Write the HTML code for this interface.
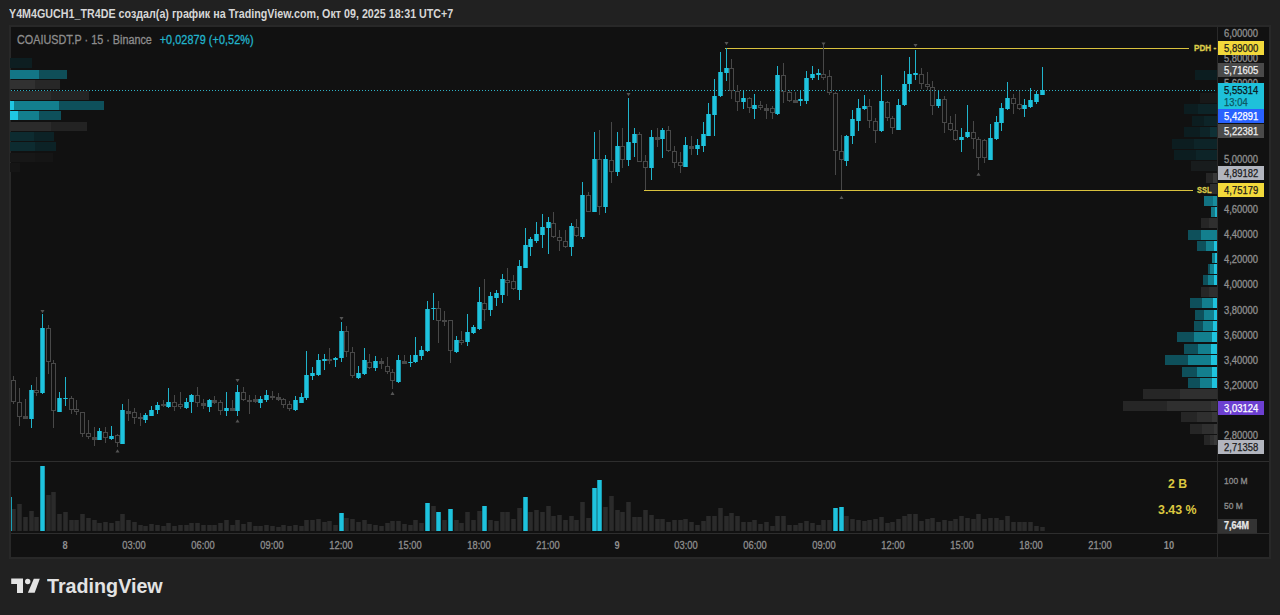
<!DOCTYPE html>
<html><head><meta charset="utf-8">
<style>
html,body{margin:0;padding:0;}
body{width:1280px;height:615px;overflow:hidden;background:#212121;position:relative;font-family:"Liberation Sans",sans-serif;}
.abs{position:absolute;white-space:nowrap;}
#title{left:9px;top:7px;font-size:12px;font-weight:bold;color:#d6d6d6;transform-origin:0 0;transform:scaleX(0.893);letter-spacing:0;}
#panel{left:9px;top:25px;width:1258px;height:530px;border:2px solid #282828;background:#111111;}
#legend{left:17px;top:33px;font-size:12px;color:#8d8d8d;transform-origin:0 0;transform:scaleX(0.9);-webkit-text-stroke:0.3px currentColor;}
#legend .chg{color:#22b4cc;margin-left:2px;letter-spacing:0.1px;}
svg{position:absolute;left:0;top:0;}
.pl{position:absolute;left:1224px;font-size:10px;color:#8e8e8e;line-height:14px;height:14px;transform-origin:0 50%;transform:scaleX(0.94);-webkit-text-stroke:0.3px currentColor;}
.box{position:absolute;left:1218px;width:46px;height:14px;}
.bt{position:absolute;left:6px;top:0px;font-size:10.5px;font-weight:normal;line-height:14px;transform-origin:0 50%;transform:scaleX(0.9);-webkit-text-stroke:0.25px currentColor;}
#logo{left:11px;top:578px;}
#logotext{left:47px;top:575px;font-size:20px;font-weight:bold;color:#e3e3e3;transform-origin:0 0;transform:scaleX(0.985);}
.tl{position:absolute;top:538.5px;width:60px;text-align:center;font-size:10px;color:#8e8e8e;line-height:14px;transform:scaleX(0.93);-webkit-text-stroke:0.3px currentColor;}
.yel{color:#dcc840;font-weight:bold;font-size:13.5px;}
</style></head><body>
<div id="title" class="abs">Y4M4GUCH1_TR4DE создал(а) график на TradingView.com, Окт 09, 2025 18:31 UTC+7</div>
<div id="panel" class="abs"></div>

<svg width="1280" height="615" viewBox="0 0 1280 615" shape-rendering="crispEdges">
<!-- separators -->
<rect x="1217" y="27" width="1" height="530" fill="#2a2a2a"/>
<rect x="11" y="461" width="1258" height="1" fill="#2e2e2e"/>
<rect x="11" y="533" width="1258" height="1" fill="#2e2e2e"/>
<!-- left volume profile -->
<g>
<rect x="10" y="58" width="22" height="10" fill="#0d1e21"/>
<rect x="10" y="70" width="29" height="9" fill="#137686"/>
<rect x="39" y="70" width="28" height="9" fill="#0f4e58"/>
<rect x="10" y="80" width="25" height="9" fill="#313131"/>
<rect x="35" y="80" width="25" height="9" fill="#272727"/>
<rect x="10" y="91" width="41" height="9" fill="#2b2b2b"/>
<rect x="51" y="91" width="38" height="9" fill="#242424"/>
<rect x="10" y="101" width="4" height="9" fill="#1fc6e2"/>
<rect x="14" y="101" width="45" height="9" fill="#137f8e"/>
<rect x="59" y="101" width="45" height="9" fill="#0e505b"/>
<rect x="10" y="111" width="8" height="9" fill="#1fc6e2"/>
<rect x="18" y="111" width="21" height="9" fill="#137f8e"/>
<rect x="39" y="111" width="22" height="9" fill="#0e505b"/>
<rect x="10" y="122" width="41" height="9" fill="#2b2b2b"/>
<rect x="51" y="122" width="36" height="9" fill="#232323"/>
<rect x="10" y="132" width="24" height="9" fill="#0d2b30"/>
<rect x="34" y="132" width="20" height="9" fill="#0c2226"/>
<rect x="10" y="142" width="25" height="9" fill="#0d2b30"/>
<rect x="35" y="142" width="21" height="9" fill="#0c2226"/>
<rect x="10" y="153" width="25" height="9" fill="#171717"/>
<rect x="35" y="153" width="18" height="9" fill="#151515"/>
<rect x="10" y="163" width="10" height="9" fill="#151515"/>
</g>
<!-- right volume profile -->
<rect x="1195" y="70" width="22" height="10" fill="#0c1d20"/>
<rect x="1200" y="93" width="17" height="10" fill="#181818"/>
<rect x="1184" y="104" width="14" height="10" fill="#0c1d20"/>
<rect x="1198" y="104" width="19" height="10" fill="#0d2428"/>
<rect x="1192" y="116" width="12" height="10" fill="#0c1d20"/>
<rect x="1204" y="116" width="13" height="10" fill="#0d2428"/>
<rect x="1184" y="127" width="16" height="10" fill="#0c1d20"/>
<rect x="1200" y="127" width="10" height="10" fill="#0d2428"/>
<rect x="1210" y="127" width="7" height="10" fill="#0f3035"/>
<rect x="1172" y="139" width="22" height="10" fill="#0c1d20"/>
<rect x="1194" y="139" width="23" height="10" fill="#0d2428"/>
<rect x="1174" y="150" width="22" height="10" fill="#0c1d20"/>
<rect x="1196" y="150" width="21" height="10" fill="#0d2428"/>
<rect x="1191" y="161" width="26" height="10" fill="#181c1d"/>
<rect x="1206" y="173" width="7" height="10" fill="#262626"/>
<rect x="1213" y="173" width="4" height="10" fill="#383838"/>
<rect x="1210" y="184" width="7" height="10" fill="#2f2f2f"/>
<rect x="1204" y="196" width="9" height="10" fill="#127282"/>
<rect x="1213" y="196" width="4" height="10" fill="#188d9d"/>
<rect x="1211" y="207" width="4" height="10" fill="#147a88"/>
<rect x="1215" y="207" width="2" height="10" fill="#1fb0c8"/>
<rect x="1201" y="218" width="8" height="10" fill="#262626"/>
<rect x="1209" y="218" width="8" height="10" fill="#2f2f2f"/>
<rect x="1188" y="230" width="13" height="10" fill="#0e505b"/>
<rect x="1201" y="230" width="16" height="10" fill="#137f8e"/>
<rect x="1197" y="241" width="9" height="10" fill="#0e505b"/>
<rect x="1206" y="241" width="8" height="10" fill="#137f8e"/>
<rect x="1214" y="241" width="3" height="10" fill="#1ec3de"/>
<rect x="1212" y="253" width="3" height="10" fill="#137f8e"/>
<rect x="1215" y="253" width="2" height="10" fill="#1ec3de"/>
<rect x="1208" y="264" width="2" height="10" fill="#0e505b"/>
<rect x="1210" y="264" width="4" height="10" fill="#137f8e"/>
<rect x="1214" y="264" width="3" height="10" fill="#1ec3de"/>
<rect x="1203" y="275" width="5" height="10" fill="#0e505b"/>
<rect x="1208" y="275" width="6" height="10" fill="#137f8e"/>
<rect x="1214" y="275" width="3" height="10" fill="#1ec3de"/>
<rect x="1201" y="287" width="8" height="10" fill="#262626"/>
<rect x="1209" y="287" width="8" height="10" fill="#2f2f2f"/>
<rect x="1190" y="298" width="12" height="10" fill="#0e505b"/>
<rect x="1202" y="298" width="11" height="10" fill="#137f8e"/>
<rect x="1213" y="298" width="4" height="10" fill="#1ec3de"/>
<rect x="1195" y="310" width="9" height="10" fill="#0e505b"/>
<rect x="1204" y="310" width="10" height="10" fill="#137f8e"/>
<rect x="1214" y="310" width="3" height="10" fill="#1ec3de"/>
<rect x="1194" y="321" width="9" height="10" fill="#0e505b"/>
<rect x="1203" y="321" width="10" height="10" fill="#137f8e"/>
<rect x="1213" y="321" width="4" height="10" fill="#1ec3de"/>
<rect x="1177" y="332" width="17" height="10" fill="#0e505b"/>
<rect x="1194" y="332" width="18" height="10" fill="#137f8e"/>
<rect x="1212" y="332" width="5" height="10" fill="#1ec3de"/>
<rect x="1184" y="344" width="14" height="10" fill="#0e505b"/>
<rect x="1198" y="344" width="13" height="10" fill="#137f8e"/>
<rect x="1211" y="344" width="6" height="10" fill="#1ec3de"/>
<rect x="1165" y="355" width="23" height="10" fill="#0e505b"/>
<rect x="1188" y="355" width="23" height="10" fill="#137f8e"/>
<rect x="1211" y="355" width="6" height="10" fill="#1ec3de"/>
<rect x="1182" y="367" width="15" height="10" fill="#0e505b"/>
<rect x="1197" y="367" width="15" height="10" fill="#137f8e"/>
<rect x="1212" y="367" width="5" height="10" fill="#1ec3de"/>
<rect x="1188" y="378" width="12" height="10" fill="#0e505b"/>
<rect x="1200" y="378" width="12" height="10" fill="#137f8e"/>
<rect x="1212" y="378" width="5" height="10" fill="#1ec3de"/>
<rect x="1143" y="389" width="37" height="10" fill="#262626"/>
<rect x="1180" y="389" width="37" height="10" fill="#2f2f2f"/>
<rect x="1123" y="401" width="44" height="10" fill="#262626"/>
<rect x="1167" y="401" width="44" height="10" fill="#2f2f2f"/>
<rect x="1211" y="401" width="6" height="10" fill="#383838"/>
<rect x="1181" y="412" width="16" height="10" fill="#262626"/>
<rect x="1197" y="412" width="15" height="10" fill="#2f2f2f"/>
<rect x="1212" y="412" width="5" height="10" fill="#383838"/>
<rect x="1190" y="424" width="12" height="10" fill="#262626"/>
<rect x="1202" y="424" width="12" height="10" fill="#2f2f2f"/>
<rect x="1214" y="424" width="3" height="10" fill="#383838"/>
<rect x="1204" y="435" width="6" height="10" fill="#262626"/>
<rect x="1210" y="435" width="4" height="10" fill="#2f2f2f"/>
<rect x="1214" y="435" width="3" height="10" fill="#383838"/>
<!-- dotted price line -->
<line x1="11" y1="90.5" x2="1217" y2="90.5" stroke="#2eb2c6" stroke-width="1" stroke-dasharray="1 2"/>
<!-- PDH / SSL -->
<rect x="725" y="48" width="464" height="1" fill="#d9c23e"/>
<rect x="644" y="190" width="549" height="1" fill="#d9c23e"/>
<rect x="13" y="376" width="1" height="4" fill="#484848"/>
<rect x="13" y="402" width="1" height="2" fill="#484848"/>
<rect x="11.5" y="380.5" width="4" height="21" fill="none" stroke="#484848" stroke-width="1"/>
<rect x="19" y="388" width="1" height="14" fill="#484848"/>
<rect x="19" y="417" width="1" height="9" fill="#484848"/>
<rect x="17.5" y="402.5" width="4" height="14" fill="none" stroke="#484848" stroke-width="1"/>
<rect x="25" y="399" width="1" height="17" fill="#484848"/>
<rect x="25" y="418" width="1" height="1" fill="#484848"/>
<rect x="23" y="416" width="5" height="3" fill="#484848"/>
<rect x="31" y="385" width="1" height="5" fill="#20b4cc"/>
<rect x="31" y="419" width="1" height="9" fill="#20b4cc"/>
<rect x="29.25" y="390" width="4.5" height="29" fill="#1ec3de" shape-rendering="auto"/>
<rect x="36" y="377" width="1" height="13" fill="#484848"/>
<rect x="36" y="393" width="1" height="3" fill="#484848"/>
<rect x="34.5" y="390.5" width="4" height="2" fill="none" stroke="#484848" stroke-width="1"/>
<rect x="42" y="314" width="1" height="14" fill="#20b4cc"/>
<rect x="42" y="393" width="1" height="1" fill="#20b4cc"/>
<rect x="40.25" y="328" width="4.5" height="65" fill="#1ec3de" shape-rendering="auto"/>
<rect x="48" y="325" width="1" height="3" fill="#484848"/>
<rect x="48" y="362" width="1" height="12" fill="#484848"/>
<rect x="46.5" y="328.5" width="4" height="33" fill="none" stroke="#484848" stroke-width="1"/>
<rect x="53" y="360" width="1" height="3" fill="#484848"/>
<rect x="53" y="411" width="1" height="17" fill="#484848"/>
<rect x="51.5" y="363.5" width="4" height="47" fill="none" stroke="#484848" stroke-width="1"/>
<rect x="59" y="392" width="1" height="6" fill="#20b4cc"/>
<rect x="57.25" y="398" width="4.5" height="14" fill="#1ec3de" shape-rendering="auto"/>
<rect x="65" y="377" width="1" height="21" fill="#20b4cc"/>
<rect x="65" y="399" width="1" height="7" fill="#20b4cc"/>
<rect x="63.25" y="398" width="4.5" height="1" fill="#1ec3de" shape-rendering="auto"/>
<rect x="71" y="396" width="1" height="2" fill="#484848"/>
<rect x="71" y="410" width="1" height="4" fill="#484848"/>
<rect x="69.5" y="398.5" width="4" height="11" fill="none" stroke="#484848" stroke-width="1"/>
<rect x="76" y="400" width="1" height="9" fill="#484848"/>
<rect x="76" y="412" width="1" height="3" fill="#484848"/>
<rect x="74.5" y="409.5" width="4" height="2" fill="none" stroke="#484848" stroke-width="1"/>
<rect x="82" y="434" width="1" height="3" fill="#484848"/>
<rect x="80.5" y="412.5" width="4" height="21" fill="none" stroke="#484848" stroke-width="1"/>
<rect x="88" y="420" width="1" height="13" fill="#484848"/>
<rect x="88" y="437" width="1" height="2" fill="#484848"/>
<rect x="86.5" y="433.5" width="4" height="3" fill="none" stroke="#484848" stroke-width="1"/>
<rect x="94" y="427" width="1" height="10" fill="#484848"/>
<rect x="94" y="439" width="1" height="7" fill="#484848"/>
<rect x="92" y="437" width="5" height="3" fill="#484848"/>
<rect x="99" y="428" width="1" height="3" fill="#20b4cc"/>
<rect x="97.25" y="431" width="4.5" height="9" fill="#1ec3de" shape-rendering="auto"/>
<rect x="105" y="427" width="1" height="5" fill="#484848"/>
<rect x="105" y="438" width="1" height="5" fill="#484848"/>
<rect x="103.5" y="432.5" width="4" height="5" fill="none" stroke="#484848" stroke-width="1"/>
<rect x="111" y="426" width="1" height="10" fill="#20b4cc"/>
<rect x="111" y="439" width="1" height="1" fill="#20b4cc"/>
<rect x="109.25" y="436" width="4.5" height="3" fill="#1ec3de" shape-rendering="auto"/>
<rect x="117" y="434" width="1" height="1" fill="#484848"/>
<rect x="117" y="443" width="1" height="4" fill="#484848"/>
<rect x="115.5" y="435.5" width="4" height="7" fill="none" stroke="#484848" stroke-width="1"/>
<rect x="122" y="404" width="1" height="6" fill="#20b4cc"/>
<rect x="120.25" y="410" width="4.5" height="34" fill="#1ec3de" shape-rendering="auto"/>
<rect x="128" y="399" width="1" height="12" fill="#484848"/>
<rect x="128" y="413" width="1" height="8" fill="#484848"/>
<rect x="126" y="411" width="5" height="3" fill="#484848"/>
<rect x="134" y="408" width="1" height="4" fill="#484848"/>
<rect x="134" y="418" width="1" height="6" fill="#484848"/>
<rect x="132.5" y="412.5" width="4" height="5" fill="none" stroke="#484848" stroke-width="1"/>
<rect x="140" y="413" width="1" height="4" fill="#484848"/>
<rect x="140" y="418" width="1" height="8" fill="#484848"/>
<rect x="138" y="417" width="5" height="2" fill="#484848"/>
<rect x="145" y="413" width="1" height="2" fill="#20b4cc"/>
<rect x="145" y="420" width="1" height="3" fill="#20b4cc"/>
<rect x="143.25" y="415" width="4.5" height="5" fill="#1ec3de" shape-rendering="auto"/>
<rect x="151" y="406" width="1" height="4" fill="#20b4cc"/>
<rect x="149.25" y="410" width="4.5" height="6" fill="#1ec3de" shape-rendering="auto"/>
<rect x="157" y="402" width="1" height="3" fill="#20b4cc"/>
<rect x="157" y="410" width="1" height="4" fill="#20b4cc"/>
<rect x="155.25" y="405" width="4.5" height="5" fill="#1ec3de" shape-rendering="auto"/>
<rect x="163" y="400" width="1" height="4" fill="#484848"/>
<rect x="163" y="405" width="1" height="2" fill="#484848"/>
<rect x="161" y="404" width="5" height="2" fill="#484848"/>
<rect x="168" y="388" width="1" height="14" fill="#20b4cc"/>
<rect x="168" y="407" width="1" height="1" fill="#20b4cc"/>
<rect x="166.25" y="402" width="4.5" height="5" fill="#1ec3de" shape-rendering="auto"/>
<rect x="174" y="395" width="1" height="7" fill="#484848"/>
<rect x="174" y="407" width="1" height="4" fill="#484848"/>
<rect x="172.5" y="402.5" width="4" height="4" fill="none" stroke="#484848" stroke-width="1"/>
<rect x="180" y="392" width="1" height="12" fill="#484848"/>
<rect x="180" y="407" width="1" height="2" fill="#484848"/>
<rect x="178.5" y="404.5" width="4" height="2" fill="none" stroke="#484848" stroke-width="1"/>
<rect x="186" y="398" width="1" height="4" fill="#20b4cc"/>
<rect x="186" y="408" width="1" height="1" fill="#20b4cc"/>
<rect x="184.25" y="402" width="4.5" height="6" fill="#1ec3de" shape-rendering="auto"/>
<rect x="191" y="394" width="1" height="1" fill="#20b4cc"/>
<rect x="191" y="402" width="1" height="11" fill="#20b4cc"/>
<rect x="189.25" y="395" width="4.5" height="7" fill="#1ec3de" shape-rendering="auto"/>
<rect x="197" y="387" width="1" height="8" fill="#484848"/>
<rect x="197" y="403" width="1" height="4" fill="#484848"/>
<rect x="195.5" y="395.5" width="4" height="7" fill="none" stroke="#484848" stroke-width="1"/>
<rect x="203" y="399" width="1" height="4" fill="#484848"/>
<rect x="203" y="405" width="1" height="4" fill="#484848"/>
<rect x="201" y="403" width="5" height="3" fill="#484848"/>
<rect x="209" y="399" width="1" height="1" fill="#20b4cc"/>
<rect x="209" y="407" width="1" height="5" fill="#20b4cc"/>
<rect x="207.25" y="400" width="4.5" height="7" fill="#1ec3de" shape-rendering="auto"/>
<rect x="214" y="396" width="1" height="4" fill="#484848"/>
<rect x="214" y="402" width="1" height="2" fill="#484848"/>
<rect x="212" y="400" width="5" height="3" fill="#484848"/>
<rect x="220" y="400" width="1" height="2" fill="#484848"/>
<rect x="220" y="411" width="1" height="4" fill="#484848"/>
<rect x="218.5" y="402.5" width="4" height="8" fill="none" stroke="#484848" stroke-width="1"/>
<rect x="226" y="392" width="1" height="16" fill="#20b4cc"/>
<rect x="226" y="411" width="1" height="5" fill="#20b4cc"/>
<rect x="224.25" y="408" width="4.5" height="3" fill="#1ec3de" shape-rendering="auto"/>
<rect x="232" y="400" width="1" height="8" fill="#484848"/>
<rect x="232" y="410" width="1" height="1" fill="#484848"/>
<rect x="230" y="408" width="5" height="3" fill="#484848"/>
<rect x="237" y="385" width="1" height="7" fill="#20b4cc"/>
<rect x="237" y="411" width="1" height="5" fill="#20b4cc"/>
<rect x="235.25" y="392" width="4.5" height="19" fill="#1ec3de" shape-rendering="auto"/>
<rect x="243" y="387" width="1" height="5" fill="#484848"/>
<rect x="243" y="400" width="1" height="1" fill="#484848"/>
<rect x="241.5" y="392.5" width="4" height="7" fill="none" stroke="#484848" stroke-width="1"/>
<rect x="249" y="395" width="1" height="5" fill="#484848"/>
<rect x="249" y="401" width="1" height="13" fill="#484848"/>
<rect x="247" y="400" width="5" height="2" fill="#484848"/>
<rect x="255" y="395" width="1" height="4" fill="#484848"/>
<rect x="255" y="401" width="1" height="2" fill="#484848"/>
<rect x="253" y="399" width="5" height="3" fill="#484848"/>
<rect x="260" y="396" width="1" height="3" fill="#20b4cc"/>
<rect x="260" y="403" width="1" height="5" fill="#20b4cc"/>
<rect x="258.25" y="399" width="4.5" height="4" fill="#1ec3de" shape-rendering="auto"/>
<rect x="266" y="390" width="1" height="5" fill="#20b4cc"/>
<rect x="266" y="400" width="1" height="2" fill="#20b4cc"/>
<rect x="264.25" y="395" width="4.5" height="5" fill="#1ec3de" shape-rendering="auto"/>
<rect x="272" y="391" width="1" height="5" fill="#484848"/>
<rect x="272" y="397" width="1" height="3" fill="#484848"/>
<rect x="270" y="396" width="5" height="2" fill="#484848"/>
<rect x="278" y="393" width="1" height="4" fill="#484848"/>
<rect x="278" y="399" width="1" height="2" fill="#484848"/>
<rect x="276" y="397" width="5" height="3" fill="#484848"/>
<rect x="283" y="398" width="1" height="1" fill="#484848"/>
<rect x="283" y="405" width="1" height="3" fill="#484848"/>
<rect x="281.5" y="399.5" width="4" height="5" fill="none" stroke="#484848" stroke-width="1"/>
<rect x="289" y="401" width="1" height="3" fill="#484848"/>
<rect x="289" y="409" width="1" height="2" fill="#484848"/>
<rect x="287.5" y="404.5" width="4" height="4" fill="none" stroke="#484848" stroke-width="1"/>
<rect x="295" y="396" width="1" height="4" fill="#20b4cc"/>
<rect x="295" y="410" width="1" height="1" fill="#20b4cc"/>
<rect x="293.25" y="400" width="4.5" height="10" fill="#1ec3de" shape-rendering="auto"/>
<rect x="301" y="393" width="1" height="4" fill="#20b4cc"/>
<rect x="299.25" y="397" width="4.5" height="6" fill="#1ec3de" shape-rendering="auto"/>
<rect x="306" y="351" width="1" height="24" fill="#20b4cc"/>
<rect x="306" y="398" width="1" height="2" fill="#20b4cc"/>
<rect x="304.25" y="375" width="4.5" height="23" fill="#1ec3de" shape-rendering="auto"/>
<rect x="312" y="367" width="1" height="6" fill="#20b4cc"/>
<rect x="312" y="376" width="1" height="4" fill="#20b4cc"/>
<rect x="310.25" y="373" width="4.5" height="3" fill="#1ec3de" shape-rendering="auto"/>
<rect x="318" y="354" width="1" height="6" fill="#20b4cc"/>
<rect x="318" y="375" width="1" height="1" fill="#20b4cc"/>
<rect x="316.25" y="360" width="4.5" height="15" fill="#1ec3de" shape-rendering="auto"/>
<rect x="324" y="354" width="1" height="5" fill="#20b4cc"/>
<rect x="324" y="361" width="1" height="9" fill="#20b4cc"/>
<rect x="322.25" y="359" width="4.5" height="2" fill="#1ec3de" shape-rendering="auto"/>
<rect x="329" y="348" width="1" height="11" fill="#484848"/>
<rect x="329" y="360" width="1" height="4" fill="#484848"/>
<rect x="327" y="359" width="5" height="2" fill="#484848"/>
<rect x="335" y="357" width="1" height="1" fill="#20b4cc"/>
<rect x="335" y="360" width="1" height="7" fill="#20b4cc"/>
<rect x="333.25" y="358" width="4.5" height="2" fill="#1ec3de" shape-rendering="auto"/>
<rect x="341" y="322" width="1" height="9" fill="#20b4cc"/>
<rect x="341" y="358" width="1" height="4" fill="#20b4cc"/>
<rect x="339.25" y="331" width="4.5" height="27" fill="#1ec3de" shape-rendering="auto"/>
<rect x="346" y="326" width="1" height="5" fill="#484848"/>
<rect x="346" y="352" width="1" height="5" fill="#484848"/>
<rect x="344.5" y="331.5" width="4" height="20" fill="none" stroke="#484848" stroke-width="1"/>
<rect x="352" y="347" width="1" height="5" fill="#484848"/>
<rect x="352" y="376" width="1" height="2" fill="#484848"/>
<rect x="350.5" y="352.5" width="4" height="23" fill="none" stroke="#484848" stroke-width="1"/>
<rect x="358" y="366" width="1" height="7" fill="#20b4cc"/>
<rect x="358" y="378" width="1" height="1" fill="#20b4cc"/>
<rect x="356.25" y="373" width="4.5" height="5" fill="#1ec3de" shape-rendering="auto"/>
<rect x="364" y="348" width="1" height="12" fill="#20b4cc"/>
<rect x="364" y="374" width="1" height="1" fill="#20b4cc"/>
<rect x="362.25" y="360" width="4.5" height="14" fill="#1ec3de" shape-rendering="auto"/>
<rect x="369" y="354" width="1" height="8" fill="#484848"/>
<rect x="369" y="368" width="1" height="1" fill="#484848"/>
<rect x="367.5" y="362.5" width="4" height="5" fill="none" stroke="#484848" stroke-width="1"/>
<rect x="375" y="356" width="1" height="5" fill="#20b4cc"/>
<rect x="375" y="368" width="1" height="3" fill="#20b4cc"/>
<rect x="373.25" y="361" width="4.5" height="7" fill="#1ec3de" shape-rendering="auto"/>
<rect x="381" y="358" width="1" height="3" fill="#484848"/>
<rect x="381" y="363" width="1" height="6" fill="#484848"/>
<rect x="379" y="361" width="5" height="3" fill="#484848"/>
<rect x="387" y="357" width="1" height="9" fill="#484848"/>
<rect x="387" y="372" width="1" height="2" fill="#484848"/>
<rect x="385.5" y="366.5" width="4" height="5" fill="none" stroke="#484848" stroke-width="1"/>
<rect x="392" y="369" width="1" height="3" fill="#484848"/>
<rect x="392" y="381" width="1" height="8" fill="#484848"/>
<rect x="390.5" y="372.5" width="4" height="8" fill="none" stroke="#484848" stroke-width="1"/>
<rect x="398" y="355" width="1" height="5" fill="#20b4cc"/>
<rect x="398" y="382" width="1" height="1" fill="#20b4cc"/>
<rect x="396.25" y="360" width="4.5" height="22" fill="#1ec3de" shape-rendering="auto"/>
<rect x="404" y="355" width="1" height="6" fill="#484848"/>
<rect x="404" y="363" width="1" height="1" fill="#484848"/>
<rect x="402" y="361" width="5" height="3" fill="#484848"/>
<rect x="410" y="355" width="1" height="7" fill="#20b4cc"/>
<rect x="410" y="363" width="1" height="4" fill="#20b4cc"/>
<rect x="408.25" y="362" width="4.5" height="1" fill="#1ec3de" shape-rendering="auto"/>
<rect x="415" y="337" width="1" height="18" fill="#20b4cc"/>
<rect x="415" y="362" width="1" height="1" fill="#20b4cc"/>
<rect x="413.25" y="355" width="4.5" height="7" fill="#1ec3de" shape-rendering="auto"/>
<rect x="421" y="346" width="1" height="4" fill="#20b4cc"/>
<rect x="421" y="356" width="1" height="4" fill="#20b4cc"/>
<rect x="419.25" y="350" width="4.5" height="6" fill="#1ec3de" shape-rendering="auto"/>
<rect x="427" y="301" width="1" height="8" fill="#20b4cc"/>
<rect x="427" y="351" width="1" height="1" fill="#20b4cc"/>
<rect x="425.25" y="309" width="4.5" height="42" fill="#1ec3de" shape-rendering="auto"/>
<rect x="433" y="293" width="1" height="15" fill="#20b4cc"/>
<rect x="433" y="309" width="1" height="11" fill="#20b4cc"/>
<rect x="431.25" y="308" width="4.5" height="1" fill="#1ec3de" shape-rendering="auto"/>
<rect x="438" y="301" width="1" height="7" fill="#484848"/>
<rect x="438" y="321" width="1" height="22" fill="#484848"/>
<rect x="436.5" y="308.5" width="4" height="12" fill="none" stroke="#484848" stroke-width="1"/>
<rect x="444" y="311" width="1" height="9" fill="#484848"/>
<rect x="444" y="321" width="1" height="5" fill="#484848"/>
<rect x="442" y="320" width="5" height="2" fill="#484848"/>
<rect x="450" y="351" width="1" height="12" fill="#484848"/>
<rect x="448.5" y="320.5" width="4" height="30" fill="none" stroke="#484848" stroke-width="1"/>
<rect x="456" y="336" width="1" height="4" fill="#20b4cc"/>
<rect x="456" y="352" width="1" height="1" fill="#20b4cc"/>
<rect x="454.25" y="340" width="4.5" height="12" fill="#1ec3de" shape-rendering="auto"/>
<rect x="461" y="331" width="1" height="9" fill="#484848"/>
<rect x="461" y="343" width="1" height="2" fill="#484848"/>
<rect x="459.5" y="340.5" width="4" height="2" fill="none" stroke="#484848" stroke-width="1"/>
<rect x="467" y="314" width="1" height="18" fill="#20b4cc"/>
<rect x="467" y="342" width="1" height="4" fill="#20b4cc"/>
<rect x="465.25" y="332" width="4.5" height="10" fill="#1ec3de" shape-rendering="auto"/>
<rect x="473" y="325" width="1" height="2" fill="#20b4cc"/>
<rect x="473" y="333" width="1" height="1" fill="#20b4cc"/>
<rect x="471.25" y="327" width="4.5" height="6" fill="#1ec3de" shape-rendering="auto"/>
<rect x="479" y="287" width="1" height="15" fill="#20b4cc"/>
<rect x="479" y="329" width="1" height="1" fill="#20b4cc"/>
<rect x="477.25" y="302" width="4.5" height="27" fill="#1ec3de" shape-rendering="auto"/>
<rect x="484" y="279" width="1" height="24" fill="#484848"/>
<rect x="484" y="310" width="1" height="11" fill="#484848"/>
<rect x="482.5" y="303.5" width="4" height="6" fill="none" stroke="#484848" stroke-width="1"/>
<rect x="490" y="292" width="1" height="4" fill="#20b4cc"/>
<rect x="490" y="310" width="1" height="6" fill="#20b4cc"/>
<rect x="488.25" y="296" width="4.5" height="14" fill="#1ec3de" shape-rendering="auto"/>
<rect x="496" y="290" width="1" height="3" fill="#20b4cc"/>
<rect x="496" y="298" width="1" height="8" fill="#20b4cc"/>
<rect x="494.25" y="293" width="4.5" height="5" fill="#1ec3de" shape-rendering="auto"/>
<rect x="502" y="274" width="1" height="5" fill="#20b4cc"/>
<rect x="502" y="295" width="1" height="8" fill="#20b4cc"/>
<rect x="500.25" y="279" width="4.5" height="16" fill="#1ec3de" shape-rendering="auto"/>
<rect x="507" y="268" width="1" height="12" fill="#484848"/>
<rect x="507" y="283" width="1" height="13" fill="#484848"/>
<rect x="505.5" y="280.5" width="4" height="2" fill="none" stroke="#484848" stroke-width="1"/>
<rect x="513" y="275" width="1" height="6" fill="#484848"/>
<rect x="513" y="289" width="1" height="1" fill="#484848"/>
<rect x="511.5" y="281.5" width="4" height="7" fill="none" stroke="#484848" stroke-width="1"/>
<rect x="519" y="260" width="1" height="6" fill="#20b4cc"/>
<rect x="519" y="290" width="1" height="10" fill="#20b4cc"/>
<rect x="517.25" y="266" width="4.5" height="24" fill="#1ec3de" shape-rendering="auto"/>
<rect x="525" y="228" width="1" height="17" fill="#20b4cc"/>
<rect x="523.25" y="245" width="4.5" height="23" fill="#1ec3de" shape-rendering="auto"/>
<rect x="530" y="237" width="1" height="2" fill="#20b4cc"/>
<rect x="530" y="247" width="1" height="9" fill="#20b4cc"/>
<rect x="528.25" y="239" width="4.5" height="8" fill="#1ec3de" shape-rendering="auto"/>
<rect x="536" y="222" width="1" height="12" fill="#20b4cc"/>
<rect x="536" y="241" width="1" height="2" fill="#20b4cc"/>
<rect x="534.25" y="234" width="4.5" height="7" fill="#1ec3de" shape-rendering="auto"/>
<rect x="542" y="214" width="1" height="13" fill="#20b4cc"/>
<rect x="542" y="235" width="1" height="13" fill="#20b4cc"/>
<rect x="540.25" y="227" width="4.5" height="8" fill="#1ec3de" shape-rendering="auto"/>
<rect x="548" y="217" width="1" height="5" fill="#20b4cc"/>
<rect x="548" y="228" width="1" height="26" fill="#20b4cc"/>
<rect x="546.25" y="222" width="4.5" height="6" fill="#1ec3de" shape-rendering="auto"/>
<rect x="553" y="212" width="1" height="11" fill="#484848"/>
<rect x="553" y="237" width="1" height="1" fill="#484848"/>
<rect x="551.5" y="223.5" width="4" height="13" fill="none" stroke="#484848" stroke-width="1"/>
<rect x="559" y="230" width="1" height="7" fill="#484848"/>
<rect x="559" y="241" width="1" height="10" fill="#484848"/>
<rect x="557.5" y="237.5" width="4" height="3" fill="none" stroke="#484848" stroke-width="1"/>
<rect x="565" y="230" width="1" height="11" fill="#484848"/>
<rect x="565" y="247" width="1" height="1" fill="#484848"/>
<rect x="563.5" y="241.5" width="4" height="5" fill="none" stroke="#484848" stroke-width="1"/>
<rect x="571" y="223" width="1" height="3" fill="#20b4cc"/>
<rect x="571" y="247" width="1" height="9" fill="#20b4cc"/>
<rect x="569.25" y="226" width="4.5" height="21" fill="#1ec3de" shape-rendering="auto"/>
<rect x="576" y="219" width="1" height="8" fill="#484848"/>
<rect x="576" y="236" width="1" height="1" fill="#484848"/>
<rect x="574.5" y="227.5" width="4" height="8" fill="none" stroke="#484848" stroke-width="1"/>
<rect x="582" y="182" width="1" height="13" fill="#20b4cc"/>
<rect x="582" y="237" width="1" height="2" fill="#20b4cc"/>
<rect x="580.25" y="195" width="4.5" height="42" fill="#1ec3de" shape-rendering="auto"/>
<rect x="588" y="192" width="1" height="3" fill="#484848"/>
<rect x="586.5" y="195.5" width="4" height="16" fill="none" stroke="#484848" stroke-width="1"/>
<rect x="594" y="132" width="1" height="27" fill="#20b4cc"/>
<rect x="592.25" y="159" width="4.5" height="53" fill="#1ec3de" shape-rendering="auto"/>
<rect x="599" y="130" width="1" height="29" fill="#484848"/>
<rect x="599" y="207" width="1" height="8" fill="#484848"/>
<rect x="597.5" y="159.5" width="4" height="47" fill="none" stroke="#484848" stroke-width="1"/>
<rect x="605" y="155" width="1" height="4" fill="#20b4cc"/>
<rect x="605" y="207" width="1" height="6" fill="#20b4cc"/>
<rect x="603.25" y="159" width="4.5" height="48" fill="#1ec3de" shape-rendering="auto"/>
<rect x="611" y="122" width="1" height="38" fill="#484848"/>
<rect x="611" y="172" width="1" height="11" fill="#484848"/>
<rect x="609.5" y="160.5" width="4" height="11" fill="none" stroke="#484848" stroke-width="1"/>
<rect x="617" y="132" width="1" height="14" fill="#20b4cc"/>
<rect x="617" y="172" width="1" height="4" fill="#20b4cc"/>
<rect x="615.25" y="146" width="4.5" height="26" fill="#1ec3de" shape-rendering="auto"/>
<rect x="622" y="128" width="1" height="18" fill="#484848"/>
<rect x="622" y="160" width="1" height="8" fill="#484848"/>
<rect x="620.5" y="146.5" width="4" height="13" fill="none" stroke="#484848" stroke-width="1"/>
<rect x="628" y="98" width="1" height="44" fill="#20b4cc"/>
<rect x="628" y="160" width="1" height="6" fill="#20b4cc"/>
<rect x="626.25" y="142" width="4.5" height="18" fill="#1ec3de" shape-rendering="auto"/>
<rect x="634" y="128" width="1" height="6" fill="#20b4cc"/>
<rect x="634" y="143" width="1" height="14" fill="#20b4cc"/>
<rect x="632.25" y="134" width="4.5" height="9" fill="#1ec3de" shape-rendering="auto"/>
<rect x="639" y="132" width="1" height="2" fill="#484848"/>
<rect x="637.5" y="134.5" width="4" height="27" fill="none" stroke="#484848" stroke-width="1"/>
<rect x="645" y="155" width="1" height="6" fill="#484848"/>
<rect x="645" y="168" width="1" height="22" fill="#484848"/>
<rect x="643.5" y="161.5" width="4" height="6" fill="none" stroke="#484848" stroke-width="1"/>
<rect x="651" y="130" width="1" height="7" fill="#20b4cc"/>
<rect x="651" y="168" width="1" height="12" fill="#20b4cc"/>
<rect x="649.25" y="137" width="4.5" height="31" fill="#1ec3de" shape-rendering="auto"/>
<rect x="657" y="128" width="1" height="9" fill="#484848"/>
<rect x="657" y="139" width="1" height="8" fill="#484848"/>
<rect x="655" y="137" width="5" height="3" fill="#484848"/>
<rect x="662" y="128" width="1" height="2" fill="#20b4cc"/>
<rect x="662" y="139" width="1" height="19" fill="#20b4cc"/>
<rect x="660.25" y="130" width="4.5" height="9" fill="#1ec3de" shape-rendering="auto"/>
<rect x="668" y="126" width="1" height="4" fill="#484848"/>
<rect x="668" y="151" width="1" height="1" fill="#484848"/>
<rect x="666.5" y="130.5" width="4" height="20" fill="none" stroke="#484848" stroke-width="1"/>
<rect x="674" y="146" width="1" height="5" fill="#484848"/>
<rect x="674" y="163" width="1" height="5" fill="#484848"/>
<rect x="672.5" y="151.5" width="4" height="11" fill="none" stroke="#484848" stroke-width="1"/>
<rect x="680" y="152" width="1" height="10" fill="#484848"/>
<rect x="680" y="166" width="1" height="7" fill="#484848"/>
<rect x="678.5" y="162.5" width="4" height="3" fill="none" stroke="#484848" stroke-width="1"/>
<rect x="685" y="137" width="1" height="8" fill="#20b4cc"/>
<rect x="683.25" y="145" width="4.5" height="22" fill="#1ec3de" shape-rendering="auto"/>
<rect x="691" y="136" width="1" height="10" fill="#484848"/>
<rect x="691" y="148" width="1" height="7" fill="#484848"/>
<rect x="689" y="146" width="5" height="3" fill="#484848"/>
<rect x="697" y="139" width="1" height="6" fill="#20b4cc"/>
<rect x="697" y="149" width="1" height="6" fill="#20b4cc"/>
<rect x="695.25" y="145" width="4.5" height="4" fill="#1ec3de" shape-rendering="auto"/>
<rect x="703" y="122" width="1" height="12" fill="#20b4cc"/>
<rect x="703" y="146" width="1" height="6" fill="#20b4cc"/>
<rect x="701.25" y="134" width="4.5" height="12" fill="#1ec3de" shape-rendering="auto"/>
<rect x="708" y="103" width="1" height="11" fill="#20b4cc"/>
<rect x="706.25" y="114" width="4.5" height="22" fill="#1ec3de" shape-rendering="auto"/>
<rect x="714" y="79" width="1" height="17" fill="#20b4cc"/>
<rect x="714" y="115" width="1" height="21" fill="#20b4cc"/>
<rect x="712.25" y="96" width="4.5" height="19" fill="#1ec3de" shape-rendering="auto"/>
<rect x="720" y="52" width="1" height="20" fill="#20b4cc"/>
<rect x="720" y="96" width="1" height="1" fill="#20b4cc"/>
<rect x="718.25" y="72" width="4.5" height="24" fill="#1ec3de" shape-rendering="auto"/>
<rect x="726" y="48" width="1" height="20" fill="#20b4cc"/>
<rect x="726" y="73" width="1" height="8" fill="#20b4cc"/>
<rect x="724.25" y="68" width="4.5" height="5" fill="#1ec3de" shape-rendering="auto"/>
<rect x="731" y="59" width="1" height="9" fill="#484848"/>
<rect x="731" y="91" width="1" height="8" fill="#484848"/>
<rect x="729.5" y="68.5" width="4" height="22" fill="none" stroke="#484848" stroke-width="1"/>
<rect x="737" y="85" width="1" height="6" fill="#484848"/>
<rect x="737" y="102" width="1" height="9" fill="#484848"/>
<rect x="735.5" y="91.5" width="4" height="10" fill="none" stroke="#484848" stroke-width="1"/>
<rect x="743" y="91" width="1" height="7" fill="#20b4cc"/>
<rect x="743" y="102" width="1" height="7" fill="#20b4cc"/>
<rect x="741.25" y="98" width="4.5" height="4" fill="#1ec3de" shape-rendering="auto"/>
<rect x="749" y="97" width="1" height="1" fill="#484848"/>
<rect x="749" y="108" width="1" height="5" fill="#484848"/>
<rect x="747.5" y="98.5" width="4" height="9" fill="none" stroke="#484848" stroke-width="1"/>
<rect x="754" y="94" width="1" height="11" fill="#20b4cc"/>
<rect x="754" y="109" width="1" height="10" fill="#20b4cc"/>
<rect x="752.25" y="105" width="4.5" height="4" fill="#1ec3de" shape-rendering="auto"/>
<rect x="760" y="101" width="1" height="4" fill="#484848"/>
<rect x="760" y="108" width="1" height="2" fill="#484848"/>
<rect x="758.5" y="105.5" width="4" height="2" fill="none" stroke="#484848" stroke-width="1"/>
<rect x="766" y="104" width="1" height="4" fill="#484848"/>
<rect x="766" y="110" width="1" height="9" fill="#484848"/>
<rect x="764" y="108" width="5" height="3" fill="#484848"/>
<rect x="772" y="106" width="1" height="2" fill="#484848"/>
<rect x="772" y="113" width="1" height="6" fill="#484848"/>
<rect x="770.5" y="108.5" width="4" height="4" fill="none" stroke="#484848" stroke-width="1"/>
<rect x="777" y="66" width="1" height="9" fill="#20b4cc"/>
<rect x="777" y="114" width="1" height="1" fill="#20b4cc"/>
<rect x="775.25" y="75" width="4.5" height="39" fill="#1ec3de" shape-rendering="auto"/>
<rect x="783" y="63" width="1" height="12" fill="#484848"/>
<rect x="783" y="92" width="1" height="11" fill="#484848"/>
<rect x="781.5" y="75.5" width="4" height="16" fill="none" stroke="#484848" stroke-width="1"/>
<rect x="789" y="90" width="1" height="2" fill="#484848"/>
<rect x="789" y="101" width="1" height="1" fill="#484848"/>
<rect x="787.5" y="92.5" width="4" height="8" fill="none" stroke="#484848" stroke-width="1"/>
<rect x="795" y="92" width="1" height="8" fill="#484848"/>
<rect x="795" y="102" width="1" height="1" fill="#484848"/>
<rect x="793" y="100" width="5" height="3" fill="#484848"/>
<rect x="800" y="90" width="1" height="9" fill="#20b4cc"/>
<rect x="800" y="101" width="1" height="5" fill="#20b4cc"/>
<rect x="798.25" y="99" width="4.5" height="2" fill="#1ec3de" shape-rendering="auto"/>
<rect x="806" y="71" width="1" height="7" fill="#20b4cc"/>
<rect x="806" y="101" width="1" height="3" fill="#20b4cc"/>
<rect x="804.25" y="78" width="4.5" height="23" fill="#1ec3de" shape-rendering="auto"/>
<rect x="812" y="66" width="1" height="8" fill="#20b4cc"/>
<rect x="812" y="78" width="1" height="2" fill="#20b4cc"/>
<rect x="810.25" y="74" width="4.5" height="4" fill="#1ec3de" shape-rendering="auto"/>
<rect x="818" y="69" width="1" height="4" fill="#20b4cc"/>
<rect x="818" y="75" width="1" height="5" fill="#20b4cc"/>
<rect x="816.25" y="73" width="4.5" height="2" fill="#1ec3de" shape-rendering="auto"/>
<rect x="823" y="45" width="1" height="29" fill="#484848"/>
<rect x="823" y="78" width="1" height="2" fill="#484848"/>
<rect x="821.5" y="74.5" width="4" height="3" fill="none" stroke="#484848" stroke-width="1"/>
<rect x="829" y="70" width="1" height="6" fill="#484848"/>
<rect x="829" y="93" width="1" height="2" fill="#484848"/>
<rect x="827.5" y="76.5" width="4" height="16" fill="none" stroke="#484848" stroke-width="1"/>
<rect x="835" y="92" width="1" height="1" fill="#484848"/>
<rect x="835" y="151" width="1" height="24" fill="#484848"/>
<rect x="833.5" y="93.5" width="4" height="57" fill="none" stroke="#484848" stroke-width="1"/>
<rect x="841" y="135" width="1" height="16" fill="#484848"/>
<rect x="841" y="160" width="1" height="30" fill="#484848"/>
<rect x="839.5" y="151.5" width="4" height="8" fill="none" stroke="#484848" stroke-width="1"/>
<rect x="846" y="135" width="1" height="1" fill="#20b4cc"/>
<rect x="846" y="161" width="1" height="5" fill="#20b4cc"/>
<rect x="844.25" y="136" width="4.5" height="25" fill="#1ec3de" shape-rendering="auto"/>
<rect x="852" y="110" width="1" height="9" fill="#20b4cc"/>
<rect x="852" y="136" width="1" height="8" fill="#20b4cc"/>
<rect x="850.25" y="119" width="4.5" height="17" fill="#1ec3de" shape-rendering="auto"/>
<rect x="858" y="99" width="1" height="9" fill="#20b4cc"/>
<rect x="858" y="121" width="1" height="10" fill="#20b4cc"/>
<rect x="856.25" y="108" width="4.5" height="13" fill="#1ec3de" shape-rendering="auto"/>
<rect x="864" y="95" width="1" height="11" fill="#20b4cc"/>
<rect x="864" y="109" width="1" height="1" fill="#20b4cc"/>
<rect x="862.25" y="106" width="4.5" height="3" fill="#1ec3de" shape-rendering="auto"/>
<rect x="869" y="99" width="1" height="7" fill="#484848"/>
<rect x="869" y="121" width="1" height="7" fill="#484848"/>
<rect x="867.5" y="106.5" width="4" height="14" fill="none" stroke="#484848" stroke-width="1"/>
<rect x="875" y="118" width="1" height="3" fill="#484848"/>
<rect x="875" y="131" width="1" height="12" fill="#484848"/>
<rect x="873.5" y="121.5" width="4" height="9" fill="none" stroke="#484848" stroke-width="1"/>
<rect x="881" y="75" width="1" height="26" fill="#20b4cc"/>
<rect x="881" y="131" width="1" height="1" fill="#20b4cc"/>
<rect x="879.25" y="101" width="4.5" height="30" fill="#1ec3de" shape-rendering="auto"/>
<rect x="887" y="101" width="1" height="1" fill="#484848"/>
<rect x="887" y="118" width="1" height="3" fill="#484848"/>
<rect x="885.5" y="102.5" width="4" height="15" fill="none" stroke="#484848" stroke-width="1"/>
<rect x="892" y="116" width="1" height="2" fill="#484848"/>
<rect x="892" y="128" width="1" height="6" fill="#484848"/>
<rect x="890.5" y="118.5" width="4" height="9" fill="none" stroke="#484848" stroke-width="1"/>
<rect x="898" y="99" width="1" height="6" fill="#20b4cc"/>
<rect x="896.25" y="105" width="4.5" height="25" fill="#1ec3de" shape-rendering="auto"/>
<rect x="904" y="71" width="1" height="13" fill="#20b4cc"/>
<rect x="904" y="105" width="1" height="1" fill="#20b4cc"/>
<rect x="902.25" y="84" width="4.5" height="21" fill="#1ec3de" shape-rendering="auto"/>
<rect x="909" y="57" width="1" height="17" fill="#20b4cc"/>
<rect x="909" y="84" width="1" height="8" fill="#20b4cc"/>
<rect x="907.25" y="74" width="4.5" height="10" fill="#1ec3de" shape-rendering="auto"/>
<rect x="915" y="50" width="1" height="23" fill="#20b4cc"/>
<rect x="915" y="75" width="1" height="5" fill="#20b4cc"/>
<rect x="913.25" y="73" width="4.5" height="2" fill="#1ec3de" shape-rendering="auto"/>
<rect x="921" y="68" width="1" height="6" fill="#484848"/>
<rect x="921" y="84" width="1" height="5" fill="#484848"/>
<rect x="919.5" y="74.5" width="4" height="9" fill="none" stroke="#484848" stroke-width="1"/>
<rect x="927" y="72" width="1" height="12" fill="#484848"/>
<rect x="927" y="87" width="1" height="3" fill="#484848"/>
<rect x="925.5" y="84.5" width="4" height="2" fill="none" stroke="#484848" stroke-width="1"/>
<rect x="932" y="81" width="1" height="6" fill="#484848"/>
<rect x="932" y="106" width="1" height="9" fill="#484848"/>
<rect x="930.5" y="87.5" width="4" height="18" fill="none" stroke="#484848" stroke-width="1"/>
<rect x="938" y="91" width="1" height="8" fill="#20b4cc"/>
<rect x="938" y="106" width="1" height="2" fill="#20b4cc"/>
<rect x="936.25" y="99" width="4.5" height="7" fill="#1ec3de" shape-rendering="auto"/>
<rect x="944" y="96" width="1" height="3" fill="#484848"/>
<rect x="944" y="123" width="1" height="10" fill="#484848"/>
<rect x="942.5" y="99.5" width="4" height="23" fill="none" stroke="#484848" stroke-width="1"/>
<rect x="950" y="116" width="1" height="7" fill="#484848"/>
<rect x="950" y="130" width="1" height="1" fill="#484848"/>
<rect x="948.5" y="123.5" width="4" height="6" fill="none" stroke="#484848" stroke-width="1"/>
<rect x="955" y="114" width="1" height="16" fill="#484848"/>
<rect x="955" y="140" width="1" height="1" fill="#484848"/>
<rect x="953.5" y="130.5" width="4" height="9" fill="none" stroke="#484848" stroke-width="1"/>
<rect x="961" y="128" width="1" height="9" fill="#20b4cc"/>
<rect x="961" y="140" width="1" height="12" fill="#20b4cc"/>
<rect x="959.25" y="137" width="4.5" height="3" fill="#1ec3de" shape-rendering="auto"/>
<rect x="967" y="105" width="1" height="27" fill="#20b4cc"/>
<rect x="967" y="137" width="1" height="1" fill="#20b4cc"/>
<rect x="965.25" y="132" width="4.5" height="5" fill="#1ec3de" shape-rendering="auto"/>
<rect x="973" y="121" width="1" height="11" fill="#484848"/>
<rect x="973" y="139" width="1" height="10" fill="#484848"/>
<rect x="971.5" y="132.5" width="4" height="6" fill="none" stroke="#484848" stroke-width="1"/>
<rect x="978" y="137" width="1" height="2" fill="#484848"/>
<rect x="978" y="158" width="1" height="12" fill="#484848"/>
<rect x="976.5" y="139.5" width="4" height="18" fill="none" stroke="#484848" stroke-width="1"/>
<rect x="984" y="139" width="1" height="1" fill="#484848"/>
<rect x="984" y="158" width="1" height="5" fill="#484848"/>
<rect x="982.5" y="140.5" width="4" height="17" fill="none" stroke="#484848" stroke-width="1"/>
<rect x="990" y="124" width="1" height="14" fill="#20b4cc"/>
<rect x="988.25" y="138" width="4.5" height="22" fill="#1ec3de" shape-rendering="auto"/>
<rect x="996" y="116" width="1" height="6" fill="#20b4cc"/>
<rect x="996" y="139" width="1" height="1" fill="#20b4cc"/>
<rect x="994.25" y="122" width="4.5" height="17" fill="#1ec3de" shape-rendering="auto"/>
<rect x="1001" y="103" width="1" height="5" fill="#20b4cc"/>
<rect x="1001" y="123" width="1" height="8" fill="#20b4cc"/>
<rect x="999.25" y="108" width="4.5" height="15" fill="#1ec3de" shape-rendering="auto"/>
<rect x="1007" y="82" width="1" height="16" fill="#20b4cc"/>
<rect x="1007" y="109" width="1" height="1" fill="#20b4cc"/>
<rect x="1005.25" y="98" width="4.5" height="11" fill="#1ec3de" shape-rendering="auto"/>
<rect x="1013" y="94" width="1" height="4" fill="#484848"/>
<rect x="1013" y="104" width="1" height="10" fill="#484848"/>
<rect x="1011.5" y="98.5" width="4" height="5" fill="none" stroke="#484848" stroke-width="1"/>
<rect x="1019" y="91" width="1" height="13" fill="#484848"/>
<rect x="1019" y="109" width="1" height="1" fill="#484848"/>
<rect x="1017.5" y="104.5" width="4" height="4" fill="none" stroke="#484848" stroke-width="1"/>
<rect x="1024" y="99" width="1" height="6" fill="#20b4cc"/>
<rect x="1024" y="109" width="1" height="8" fill="#20b4cc"/>
<rect x="1022.25" y="105" width="4.5" height="4" fill="#1ec3de" shape-rendering="auto"/>
<rect x="1030" y="88" width="1" height="12" fill="#20b4cc"/>
<rect x="1030" y="107" width="1" height="1" fill="#20b4cc"/>
<rect x="1028.25" y="100" width="4.5" height="7" fill="#1ec3de" shape-rendering="auto"/>
<rect x="1036" y="91" width="1" height="3" fill="#20b4cc"/>
<rect x="1036" y="102" width="1" height="2" fill="#20b4cc"/>
<rect x="1034.25" y="94" width="4.5" height="8" fill="#1ec3de" shape-rendering="auto"/>
<rect x="1042" y="67" width="1" height="23" fill="#20b4cc"/>
<rect x="1040.25" y="90" width="4.5" height="5" fill="#1ec3de" shape-rendering="auto"/>
<path d="M40.5 310.0H44.5L42.5 313.3Z" fill="#555" shape-rendering="auto"/>
<path d="M115.5 452.5H119.5L117.5 449.2Z" fill="#555" shape-rendering="auto"/>
<path d="M235.5 379.0H239.5L237.5 382.3Z" fill="#555" shape-rendering="auto"/>
<path d="M235.5 422.5H239.5L237.5 419.2Z" fill="#555" shape-rendering="auto"/>
<path d="M390.5 394.9H394.5L392.5 391.59999999999997Z" fill="#555" shape-rendering="auto"/>
<path d="M724.5 42.0H728.5L726.5 45.3Z" fill="#555" shape-rendering="auto"/>
<path d="M821.5 42.5H825.5L823.5 45.8Z" fill="#555" shape-rendering="auto"/>
<path d="M839.5 199.0H843.5L841.5 195.7Z" fill="#555" shape-rendering="auto"/>
<path d="M913.5 44.0H917.5L915.5 47.3Z" fill="#555" shape-rendering="auto"/>
<path d="M626.5 93.0H630.5L628.5 96.3Z" fill="#555" shape-rendering="auto"/>
<path d="M339.5 317.0H343.5L341.5 320.3Z" fill="#555" shape-rendering="auto"/>
<path d="M976.5 175.8H980.5L978.5 172.5Z" fill="#555" shape-rendering="auto"/>
<rect x="11.25" y="509" width="4.5" height="22" fill="#2b2b2b" shape-rendering="auto"/>
<rect x="17.25" y="504" width="4.5" height="27" fill="#2b2b2b" shape-rendering="auto"/>
<rect x="23.25" y="517" width="4.5" height="14" fill="#2b2b2b" shape-rendering="auto"/>
<rect x="29.25" y="511" width="4.5" height="20" fill="#2b2b2b" shape-rendering="auto"/>
<rect x="34.25" y="517" width="4.5" height="14" fill="#2b2b2b" shape-rendering="auto"/>
<rect x="40.25" y="466" width="4.5" height="65" fill="#1ec3de" shape-rendering="auto"/>
<rect x="46.25" y="495" width="4.5" height="36" fill="#2b2b2b" shape-rendering="auto"/>
<rect x="51.25" y="492" width="4.5" height="39" fill="#2b2b2b" shape-rendering="auto"/>
<rect x="57.25" y="514" width="4.5" height="17" fill="#2b2b2b" shape-rendering="auto"/>
<rect x="63.25" y="512" width="4.5" height="19" fill="#2b2b2b" shape-rendering="auto"/>
<rect x="69.25" y="520" width="4.5" height="11" fill="#2b2b2b" shape-rendering="auto"/>
<rect x="74.25" y="520" width="4.5" height="11" fill="#2b2b2b" shape-rendering="auto"/>
<rect x="80.25" y="514" width="4.5" height="17" fill="#2b2b2b" shape-rendering="auto"/>
<rect x="86.25" y="518" width="4.5" height="13" fill="#2b2b2b" shape-rendering="auto"/>
<rect x="92.25" y="520" width="4.5" height="11" fill="#2b2b2b" shape-rendering="auto"/>
<rect x="97.25" y="523" width="4.5" height="8" fill="#2b2b2b" shape-rendering="auto"/>
<rect x="103.25" y="522" width="4.5" height="9" fill="#2b2b2b" shape-rendering="auto"/>
<rect x="109.25" y="523" width="4.5" height="8" fill="#2b2b2b" shape-rendering="auto"/>
<rect x="115.25" y="521" width="4.5" height="10" fill="#2b2b2b" shape-rendering="auto"/>
<rect x="120.25" y="514" width="4.5" height="17" fill="#2b2b2b" shape-rendering="auto"/>
<rect x="126.25" y="520" width="4.5" height="11" fill="#2b2b2b" shape-rendering="auto"/>
<rect x="132.25" y="522" width="4.5" height="9" fill="#2b2b2b" shape-rendering="auto"/>
<rect x="138.25" y="525" width="4.5" height="6" fill="#2b2b2b" shape-rendering="auto"/>
<rect x="143.25" y="526" width="4.5" height="5" fill="#2b2b2b" shape-rendering="auto"/>
<rect x="149.25" y="524" width="4.5" height="7" fill="#2b2b2b" shape-rendering="auto"/>
<rect x="155.25" y="525" width="4.5" height="6" fill="#2b2b2b" shape-rendering="auto"/>
<rect x="161.25" y="526" width="4.5" height="5" fill="#2b2b2b" shape-rendering="auto"/>
<rect x="166.25" y="523" width="4.5" height="8" fill="#2b2b2b" shape-rendering="auto"/>
<rect x="172.25" y="526" width="4.5" height="5" fill="#2b2b2b" shape-rendering="auto"/>
<rect x="178.25" y="525" width="4.5" height="6" fill="#2b2b2b" shape-rendering="auto"/>
<rect x="184.25" y="525" width="4.5" height="6" fill="#2b2b2b" shape-rendering="auto"/>
<rect x="189.25" y="523" width="4.5" height="8" fill="#2b2b2b" shape-rendering="auto"/>
<rect x="195.25" y="523" width="4.5" height="8" fill="#2b2b2b" shape-rendering="auto"/>
<rect x="201.25" y="525" width="4.5" height="6" fill="#2b2b2b" shape-rendering="auto"/>
<rect x="207.25" y="525" width="4.5" height="6" fill="#2b2b2b" shape-rendering="auto"/>
<rect x="212.25" y="525" width="4.5" height="6" fill="#2b2b2b" shape-rendering="auto"/>
<rect x="218.25" y="523" width="4.5" height="8" fill="#2b2b2b" shape-rendering="auto"/>
<rect x="224.25" y="520" width="4.5" height="11" fill="#2b2b2b" shape-rendering="auto"/>
<rect x="230.25" y="525" width="4.5" height="6" fill="#2b2b2b" shape-rendering="auto"/>
<rect x="235.25" y="520" width="4.5" height="11" fill="#2b2b2b" shape-rendering="auto"/>
<rect x="241.25" y="524" width="4.5" height="7" fill="#2b2b2b" shape-rendering="auto"/>
<rect x="247.25" y="522" width="4.5" height="9" fill="#2b2b2b" shape-rendering="auto"/>
<rect x="253.25" y="526" width="4.5" height="5" fill="#2b2b2b" shape-rendering="auto"/>
<rect x="258.25" y="526" width="4.5" height="5" fill="#2b2b2b" shape-rendering="auto"/>
<rect x="264.25" y="525" width="4.5" height="6" fill="#2b2b2b" shape-rendering="auto"/>
<rect x="270.25" y="526" width="4.5" height="5" fill="#2b2b2b" shape-rendering="auto"/>
<rect x="276.25" y="527" width="4.5" height="4" fill="#2b2b2b" shape-rendering="auto"/>
<rect x="281.25" y="525" width="4.5" height="6" fill="#2b2b2b" shape-rendering="auto"/>
<rect x="287.25" y="526" width="4.5" height="5" fill="#2b2b2b" shape-rendering="auto"/>
<rect x="293.25" y="525" width="4.5" height="6" fill="#2b2b2b" shape-rendering="auto"/>
<rect x="299.25" y="526" width="4.5" height="5" fill="#2b2b2b" shape-rendering="auto"/>
<rect x="304.25" y="520" width="4.5" height="11" fill="#2b2b2b" shape-rendering="auto"/>
<rect x="310.25" y="520" width="4.5" height="11" fill="#2b2b2b" shape-rendering="auto"/>
<rect x="316.25" y="519" width="4.5" height="12" fill="#2b2b2b" shape-rendering="auto"/>
<rect x="322.25" y="522" width="4.5" height="9" fill="#2b2b2b" shape-rendering="auto"/>
<rect x="327.25" y="521" width="4.5" height="10" fill="#2b2b2b" shape-rendering="auto"/>
<rect x="333.25" y="525" width="4.5" height="6" fill="#2b2b2b" shape-rendering="auto"/>
<rect x="339.25" y="513" width="4.5" height="18" fill="#1ec3de" shape-rendering="auto"/>
<rect x="344.25" y="518" width="4.5" height="13" fill="#2b2b2b" shape-rendering="auto"/>
<rect x="350.25" y="519" width="4.5" height="12" fill="#2b2b2b" shape-rendering="auto"/>
<rect x="356.25" y="522" width="4.5" height="9" fill="#2b2b2b" shape-rendering="auto"/>
<rect x="362.25" y="520" width="4.5" height="11" fill="#2b2b2b" shape-rendering="auto"/>
<rect x="367.25" y="524" width="4.5" height="7" fill="#2b2b2b" shape-rendering="auto"/>
<rect x="373.25" y="525" width="4.5" height="6" fill="#2b2b2b" shape-rendering="auto"/>
<rect x="379.25" y="526" width="4.5" height="5" fill="#2b2b2b" shape-rendering="auto"/>
<rect x="385.25" y="523" width="4.5" height="8" fill="#2b2b2b" shape-rendering="auto"/>
<rect x="390.25" y="521" width="4.5" height="10" fill="#2b2b2b" shape-rendering="auto"/>
<rect x="396.25" y="521" width="4.5" height="10" fill="#2b2b2b" shape-rendering="auto"/>
<rect x="402.25" y="524" width="4.5" height="7" fill="#2b2b2b" shape-rendering="auto"/>
<rect x="408.25" y="525" width="4.5" height="6" fill="#2b2b2b" shape-rendering="auto"/>
<rect x="413.25" y="520" width="4.5" height="11" fill="#2b2b2b" shape-rendering="auto"/>
<rect x="419.25" y="523" width="4.5" height="8" fill="#2b2b2b" shape-rendering="auto"/>
<rect x="425.25" y="503" width="4.5" height="28" fill="#1ec3de" shape-rendering="auto"/>
<rect x="431.25" y="506" width="4.5" height="25" fill="#2b2b2b" shape-rendering="auto"/>
<rect x="436.25" y="512" width="4.5" height="19" fill="#1ec3de" shape-rendering="auto"/>
<rect x="442.25" y="520" width="4.5" height="11" fill="#2b2b2b" shape-rendering="auto"/>
<rect x="448.25" y="509" width="4.5" height="22" fill="#1ec3de" shape-rendering="auto"/>
<rect x="454.25" y="520" width="4.5" height="11" fill="#2b2b2b" shape-rendering="auto"/>
<rect x="459.25" y="523" width="4.5" height="8" fill="#2b2b2b" shape-rendering="auto"/>
<rect x="465.25" y="512" width="4.5" height="19" fill="#2b2b2b" shape-rendering="auto"/>
<rect x="471.25" y="520" width="4.5" height="11" fill="#2b2b2b" shape-rendering="auto"/>
<rect x="477.25" y="511" width="4.5" height="20" fill="#2b2b2b" shape-rendering="auto"/>
<rect x="482.25" y="506" width="4.5" height="25" fill="#1ec3de" shape-rendering="auto"/>
<rect x="488.25" y="520" width="4.5" height="11" fill="#2b2b2b" shape-rendering="auto"/>
<rect x="494.25" y="521" width="4.5" height="10" fill="#2b2b2b" shape-rendering="auto"/>
<rect x="500.25" y="512" width="4.5" height="19" fill="#2b2b2b" shape-rendering="auto"/>
<rect x="505.25" y="512" width="4.5" height="19" fill="#2b2b2b" shape-rendering="auto"/>
<rect x="511.25" y="519" width="4.5" height="12" fill="#2b2b2b" shape-rendering="auto"/>
<rect x="517.25" y="508" width="4.5" height="23" fill="#2b2b2b" shape-rendering="auto"/>
<rect x="523.25" y="497" width="4.5" height="34" fill="#1ec3de" shape-rendering="auto"/>
<rect x="528.25" y="512" width="4.5" height="19" fill="#2b2b2b" shape-rendering="auto"/>
<rect x="534.25" y="510" width="4.5" height="21" fill="#2b2b2b" shape-rendering="auto"/>
<rect x="540.25" y="512" width="4.5" height="19" fill="#2b2b2b" shape-rendering="auto"/>
<rect x="546.25" y="506" width="4.5" height="25" fill="#2b2b2b" shape-rendering="auto"/>
<rect x="551.25" y="516" width="4.5" height="15" fill="#2b2b2b" shape-rendering="auto"/>
<rect x="557.25" y="515" width="4.5" height="16" fill="#2b2b2b" shape-rendering="auto"/>
<rect x="563.25" y="520" width="4.5" height="11" fill="#2b2b2b" shape-rendering="auto"/>
<rect x="569.25" y="516" width="4.5" height="15" fill="#2b2b2b" shape-rendering="auto"/>
<rect x="574.25" y="520" width="4.5" height="11" fill="#2b2b2b" shape-rendering="auto"/>
<rect x="580.25" y="502" width="4.5" height="29" fill="#2b2b2b" shape-rendering="auto"/>
<rect x="586.25" y="518" width="4.5" height="13" fill="#2b2b2b" shape-rendering="auto"/>
<rect x="592.25" y="488" width="4.5" height="43" fill="#1ec3de" shape-rendering="auto"/>
<rect x="597.25" y="480" width="4.5" height="51" fill="#1ec3de" shape-rendering="auto"/>
<rect x="603.25" y="507" width="4.5" height="24" fill="#2b2b2b" shape-rendering="auto"/>
<rect x="609.25" y="496" width="4.5" height="35" fill="#2b2b2b" shape-rendering="auto"/>
<rect x="615.25" y="510" width="4.5" height="21" fill="#2b2b2b" shape-rendering="auto"/>
<rect x="620.25" y="512" width="4.5" height="19" fill="#2b2b2b" shape-rendering="auto"/>
<rect x="626.25" y="502" width="4.5" height="29" fill="#2b2b2b" shape-rendering="auto"/>
<rect x="632.25" y="517" width="4.5" height="14" fill="#2b2b2b" shape-rendering="auto"/>
<rect x="637.25" y="517" width="4.5" height="14" fill="#2b2b2b" shape-rendering="auto"/>
<rect x="643.25" y="510" width="4.5" height="21" fill="#2b2b2b" shape-rendering="auto"/>
<rect x="649.25" y="515" width="4.5" height="16" fill="#2b2b2b" shape-rendering="auto"/>
<rect x="655.25" y="519" width="4.5" height="12" fill="#2b2b2b" shape-rendering="auto"/>
<rect x="660.25" y="519" width="4.5" height="12" fill="#2b2b2b" shape-rendering="auto"/>
<rect x="666.25" y="522" width="4.5" height="9" fill="#2b2b2b" shape-rendering="auto"/>
<rect x="672.25" y="520" width="4.5" height="11" fill="#2b2b2b" shape-rendering="auto"/>
<rect x="678.25" y="520" width="4.5" height="11" fill="#2b2b2b" shape-rendering="auto"/>
<rect x="683.25" y="519" width="4.5" height="12" fill="#2b2b2b" shape-rendering="auto"/>
<rect x="689.25" y="522" width="4.5" height="9" fill="#2b2b2b" shape-rendering="auto"/>
<rect x="695.25" y="525" width="4.5" height="6" fill="#2b2b2b" shape-rendering="auto"/>
<rect x="701.25" y="521" width="4.5" height="10" fill="#2b2b2b" shape-rendering="auto"/>
<rect x="706.25" y="516" width="4.5" height="15" fill="#2b2b2b" shape-rendering="auto"/>
<rect x="712.25" y="516" width="4.5" height="15" fill="#2b2b2b" shape-rendering="auto"/>
<rect x="718.25" y="508" width="4.5" height="23" fill="#2b2b2b" shape-rendering="auto"/>
<rect x="724.25" y="516" width="4.5" height="15" fill="#2b2b2b" shape-rendering="auto"/>
<rect x="729.25" y="513" width="4.5" height="18" fill="#2b2b2b" shape-rendering="auto"/>
<rect x="735.25" y="516" width="4.5" height="15" fill="#2b2b2b" shape-rendering="auto"/>
<rect x="741.25" y="522" width="4.5" height="9" fill="#2b2b2b" shape-rendering="auto"/>
<rect x="747.25" y="522" width="4.5" height="9" fill="#2b2b2b" shape-rendering="auto"/>
<rect x="752.25" y="520" width="4.5" height="11" fill="#2b2b2b" shape-rendering="auto"/>
<rect x="758.25" y="524" width="4.5" height="7" fill="#2b2b2b" shape-rendering="auto"/>
<rect x="764.25" y="522" width="4.5" height="9" fill="#2b2b2b" shape-rendering="auto"/>
<rect x="770.25" y="526" width="4.5" height="5" fill="#2b2b2b" shape-rendering="auto"/>
<rect x="775.25" y="516" width="4.5" height="15" fill="#2b2b2b" shape-rendering="auto"/>
<rect x="781.25" y="516" width="4.5" height="15" fill="#2b2b2b" shape-rendering="auto"/>
<rect x="787.25" y="525" width="4.5" height="6" fill="#2b2b2b" shape-rendering="auto"/>
<rect x="793.25" y="525" width="4.5" height="6" fill="#2b2b2b" shape-rendering="auto"/>
<rect x="798.25" y="523" width="4.5" height="8" fill="#2b2b2b" shape-rendering="auto"/>
<rect x="804.25" y="521" width="4.5" height="10" fill="#2b2b2b" shape-rendering="auto"/>
<rect x="810.25" y="523" width="4.5" height="8" fill="#2b2b2b" shape-rendering="auto"/>
<rect x="816.25" y="525" width="4.5" height="6" fill="#2b2b2b" shape-rendering="auto"/>
<rect x="821.25" y="520" width="4.5" height="11" fill="#2b2b2b" shape-rendering="auto"/>
<rect x="827.25" y="520" width="4.5" height="11" fill="#2b2b2b" shape-rendering="auto"/>
<rect x="833.25" y="508" width="4.5" height="23" fill="#1ec3de" shape-rendering="auto"/>
<rect x="839.25" y="507" width="4.5" height="24" fill="#1ec3de" shape-rendering="auto"/>
<rect x="844.25" y="516" width="4.5" height="15" fill="#2b2b2b" shape-rendering="auto"/>
<rect x="850.25" y="519" width="4.5" height="12" fill="#2b2b2b" shape-rendering="auto"/>
<rect x="856.25" y="520" width="4.5" height="11" fill="#2b2b2b" shape-rendering="auto"/>
<rect x="862.25" y="521" width="4.5" height="10" fill="#2b2b2b" shape-rendering="auto"/>
<rect x="867.25" y="520" width="4.5" height="11" fill="#2b2b2b" shape-rendering="auto"/>
<rect x="873.25" y="519" width="4.5" height="12" fill="#2b2b2b" shape-rendering="auto"/>
<rect x="879.25" y="517" width="4.5" height="14" fill="#2b2b2b" shape-rendering="auto"/>
<rect x="885.25" y="523" width="4.5" height="8" fill="#2b2b2b" shape-rendering="auto"/>
<rect x="890.25" y="522" width="4.5" height="9" fill="#2b2b2b" shape-rendering="auto"/>
<rect x="896.25" y="519" width="4.5" height="12" fill="#2b2b2b" shape-rendering="auto"/>
<rect x="902.25" y="516" width="4.5" height="15" fill="#2b2b2b" shape-rendering="auto"/>
<rect x="907.25" y="514" width="4.5" height="17" fill="#2b2b2b" shape-rendering="auto"/>
<rect x="913.25" y="514" width="4.5" height="17" fill="#2b2b2b" shape-rendering="auto"/>
<rect x="919.25" y="521" width="4.5" height="10" fill="#2b2b2b" shape-rendering="auto"/>
<rect x="925.25" y="519" width="4.5" height="12" fill="#2b2b2b" shape-rendering="auto"/>
<rect x="930.25" y="518" width="4.5" height="13" fill="#2b2b2b" shape-rendering="auto"/>
<rect x="936.25" y="522" width="4.5" height="9" fill="#2b2b2b" shape-rendering="auto"/>
<rect x="942.25" y="520" width="4.5" height="11" fill="#2b2b2b" shape-rendering="auto"/>
<rect x="948.25" y="521" width="4.5" height="10" fill="#2b2b2b" shape-rendering="auto"/>
<rect x="953.25" y="519" width="4.5" height="12" fill="#2b2b2b" shape-rendering="auto"/>
<rect x="959.25" y="516" width="4.5" height="15" fill="#2b2b2b" shape-rendering="auto"/>
<rect x="965.25" y="518" width="4.5" height="13" fill="#2b2b2b" shape-rendering="auto"/>
<rect x="971.25" y="519" width="4.5" height="12" fill="#2b2b2b" shape-rendering="auto"/>
<rect x="976.25" y="514" width="4.5" height="17" fill="#2b2b2b" shape-rendering="auto"/>
<rect x="982.25" y="519" width="4.5" height="12" fill="#2b2b2b" shape-rendering="auto"/>
<rect x="988.25" y="518" width="4.5" height="13" fill="#2b2b2b" shape-rendering="auto"/>
<rect x="994.25" y="518" width="4.5" height="13" fill="#2b2b2b" shape-rendering="auto"/>
<rect x="999.25" y="520" width="4.5" height="11" fill="#2b2b2b" shape-rendering="auto"/>
<rect x="1005.25" y="516" width="4.5" height="15" fill="#2b2b2b" shape-rendering="auto"/>
<rect x="1011.25" y="522" width="4.5" height="9" fill="#2b2b2b" shape-rendering="auto"/>
<rect x="1017.25" y="522" width="4.5" height="9" fill="#2b2b2b" shape-rendering="auto"/>
<rect x="1022.25" y="522" width="4.5" height="9" fill="#2b2b2b" shape-rendering="auto"/>
<rect x="1028.25" y="522" width="4.5" height="9" fill="#2b2b2b" shape-rendering="auto"/>
<rect x="1034.25" y="526" width="4.5" height="5" fill="#2b2b2b" shape-rendering="auto"/>
<rect x="1040.25" y="527" width="4.5" height="4" fill="#2b2b2b" shape-rendering="auto"/>
<rect x="11" y="497" width="1" height="34" fill="#1a9fb6"/>
</svg>

<div id="legend" class="abs">COAIUSDT.P · 15 · Binance &nbsp;<span class="chg">+0,02879 (+0,52%)</span></div>

<div class="abs" style="left:1193.5px;top:40.5px;font-size:9.5px;font-weight:bold;color:#dccb4a;line-height:14px;transform-origin:0 0;transform:scaleX(0.86);-webkit-text-stroke:0.35px currentColor;">PDH -</div>
<div class="abs" style="left:1196.5px;top:183px;font-size:9.5px;font-weight:bold;color:#dccb4a;line-height:14px;transform-origin:0 0;transform:scaleX(0.78);-webkit-text-stroke:0.35px currentColor;">SSL</div>

<!-- price axis -->
<div class="pl" style="top:27.2px;">6,00000</div>
<div class="pl" style="top:52.3px;">5,80000</div>
<div class="pl" style="top:77.4px;">5,60000</div>
<div class="pl" style="top:152.8px;">5,00000</div>
<div class="pl" style="top:203.0px;">4,60000</div>
<div class="pl" style="top:228.2px;">4,40000</div>
<div class="pl" style="top:253.3px;">4,20000</div>
<div class="pl" style="top:278.4px;">4,00000</div>
<div class="pl" style="top:303.5px;">3,80000</div>
<div class="pl" style="top:328.6px;">3,60000</div>
<div class="pl" style="top:353.8px;">3,40000</div>
<div class="pl" style="top:378.9px;">3,20000</div>
<div class="pl" style="top:429.1px;">2,80000</div>
<div class="box" style="top:41px;background:#f2d93b;"><div class="bt" style="color:#1b1b1b;">5,89000</div></div>
<div class="box" style="top:63px;background:#4a4a4a;"><div class="bt" style="color:#f0f0f0;">5,71605</div></div>
<div class="box" style="top:109px;background:#2962ff;"><div class="bt" style="color:#ffffff;">5,42891</div></div>
<div class="box" style="top:124px;background:#4a4a4a;"><div class="bt" style="color:#f0f0f0;">5,22381</div></div>
<div class="box" style="top:166px;background:#b2b5be;"><div class="bt" style="color:#1b1b1b;">4,89182</div></div>
<div class="box" style="top:183px;background:#f2d93b;"><div class="bt" style="color:#1b1b1b;">4,75179</div></div>
<div class="box" style="top:401px;background:#6c3fd1;"><div class="bt" style="color:#ffffff;">3,03124</div></div>
<div class="box" style="top:440px;background:#b2b5be;"><div class="bt" style="color:#1b1b1b;">2,71358</div></div>
<div class="box" style="top:83px;height:26px;background:#1ec1da;"><div class="bt" style="color:#0b1416;">5,55314</div><div class="bt" style="top:11.5px;color:#0c5560;font-weight:normal;">13:04</div></div>

<!-- volume axis -->
<div class="pl" style="top:474px;font-size:9px;">100 M</div>
<div class="pl" style="top:499px;font-size:9px;">50 M</div>
<div class="box" style="top:519px;width:39px;background:#333333;"><div class="bt" style="color:#e8e8e8;font-weight:bold;font-size:10px;">7,64M</div></div>

<div class="abs yel" style="left:1168px;top:475.5px;transform-origin:0 0;transform:scaleX(0.91);">2 B</div>
<div class="abs yel" style="left:1158px;top:501.5px;transform-origin:0 0;transform:scaleX(0.92);">3.43 %</div>

<!-- time axis -->
<div class="tl" style="left:35px;font-weight:bold;-webkit-text-stroke:0;">8</div>
<div class="tl" style="left:104px;">03:00</div>
<div class="tl" style="left:173px;">06:00</div>
<div class="tl" style="left:242px;">09:00</div>
<div class="tl" style="left:311px;">12:00</div>
<div class="tl" style="left:380px;">15:00</div>
<div class="tl" style="left:449px;">18:00</div>
<div class="tl" style="left:518px;">21:00</div>
<div class="tl" style="left:587px;font-weight:bold;-webkit-text-stroke:0;">9</div>
<div class="tl" style="left:656px;">03:00</div>
<div class="tl" style="left:725px;">06:00</div>
<div class="tl" style="left:794px;">09:00</div>
<div class="tl" style="left:863px;">12:00</div>
<div class="tl" style="left:932px;">15:00</div>
<div class="tl" style="left:1001px;">18:00</div>
<div class="tl" style="left:1070px;">21:00</div>
<div class="tl" style="left:1139px;font-weight:bold;-webkit-text-stroke:0;">10</div>

<svg id="logo" class="abs" width="30" height="16" viewBox="0 0 30 16" style="left:11px;top:578px;">
<path d="M0.2 0.5H12V15H6V6H0.2Z" fill="#e3e3e3"/>
<circle cx="16.7" cy="3.5" r="2.7" fill="#e3e3e3"/>
<path d="M22.8 0.8H28.8L23.7 14.8H16.9Z" fill="#e3e3e3"/>
</svg>
<div id="logotext" class="abs">TradingView</div>
</body></html>
